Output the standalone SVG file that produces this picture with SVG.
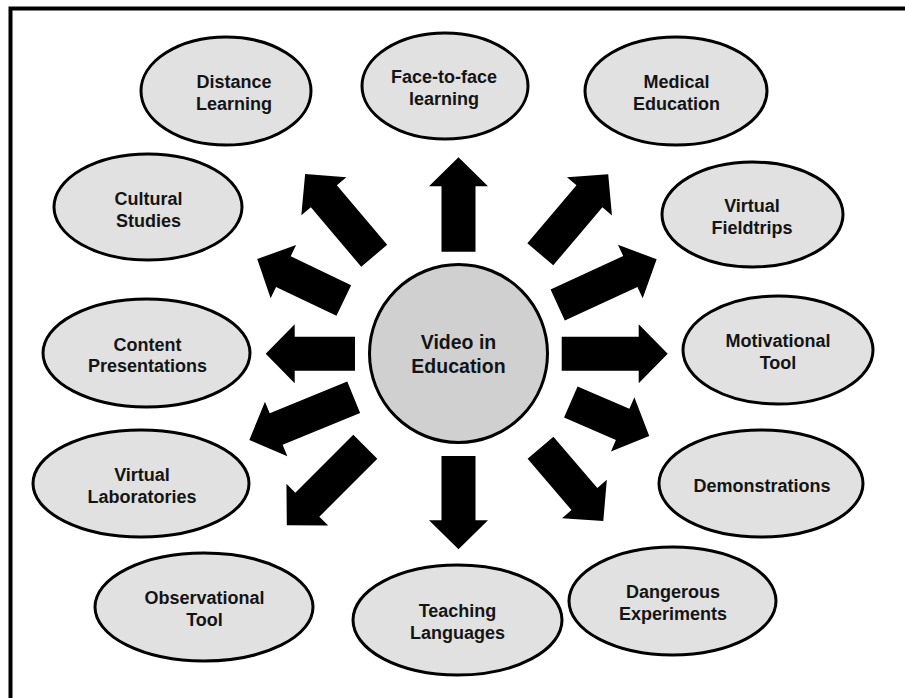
<svg xmlns="http://www.w3.org/2000/svg" width="905" height="698" viewBox="0 0 905 698">
  <style>
    .topic ellipse { fill: #e1e1e1; stroke: #000; stroke-width: 3; }
    .hub circle { fill: #d0d0d0; stroke: #000; stroke-width: 3; }
    text { font-family: "Liberation Sans", Arial, sans-serif; font-weight: bold; font-size: 18px; fill: #141414; text-anchor: middle; }
    .hub text { font-size: 19.5px; }
    .arrow { fill: #000; }
    .frame { fill: none; stroke: #000; stroke-width: 4; }
  </style>

  <rect width="905" height="698" fill="#fff"/>
  <!-- frame (top and left edges) -->
  <path class="frame" d="M10.5,698 V8.5 H905"/>

  <!-- radial arrows: tail at origin, pointing along +x -->
  <g id="connectors">
    <polygon class="arrow" transform="translate(458.5,251.7) rotate(-90)" points="0,-17 65.4,-17 65.4,-29.5 94.4,0 65.4,29.5 65.4,17 0,17"/>
    <polygon class="arrow" transform="translate(540.3,254.3) rotate(-49.7)" points="0,-17 76,-17 76,-29.5 105,0 76,29.5 76,17 0,17"/>
    <polygon class="arrow" transform="translate(557.7,305) rotate(-24.8)" points="0,-17 80,-17 80,-29.5 109,0 80,29.5 80,17 0,17"/>
    <polygon class="arrow" transform="translate(561.7,353.7) rotate(0)" points="0,-17 77,-17 77,-29.5 106,0 77,29.5 77,17 0,17"/>
    <polygon class="arrow" transform="translate(570.8,402) rotate(23.4)" points="0,-17 56.5,-17 56.5,-29.5 85.5,0 56.5,29.5 56.5,17 0,17"/>
    <polygon class="arrow" transform="translate(540.5,447.8) rotate(49.4)" points="0,-17 67.5,-17 67.5,-29.5 96.5,0 67.5,29.5 67.5,17 0,17"/>
    <polygon class="arrow" transform="translate(458.5,456) rotate(90)" points="0,-17 64.3,-17 64.3,-29.5 93.3,0 64.3,29.5 64.3,17 0,17"/>
    <polygon class="arrow" transform="translate(365.3,446.7) rotate(135)" points="0,-17 82,-17 82,-29.5 111,0 82,29.5 82,17 0,17"/>
    <polygon class="arrow" transform="translate(353.7,397.2) rotate(157.7)" points="0,-17 83.8,-17 83.8,-29.5 112.8,0 83.8,29.5 83.8,17 0,17"/>
    <polygon class="arrow" transform="translate(355,353.7) rotate(180)" points="0,-17 60.3,-17 60.3,-29.5 89.3,0 60.3,29.5 60.3,17 0,17"/>
    <polygon class="arrow" transform="translate(343.8,300.5) rotate(205.6)" points="0,-17 67,-17 67,-29.5 96,0 67,29.5 67,17 0,17"/>
    <polygon class="arrow" transform="translate(374.2,255.8) rotate(229.8)" points="0,-17 78,-17 78,-29.5 107,0 78,29.5 78,17 0,17"/>
  </g>

  <g id="video-in-education" class="hub">
    <circle cx="458.5" cy="353.5" r="89"/>
    <text x="458.5" y="349">Video in</text>
    <text x="458.5" y="373">Education</text>
  </g>

  <g id="distance-learning" class="topic">
    <ellipse cx="226" cy="91" rx="85" ry="54"/>
    <text x="234" y="88">Distance</text>
    <text x="234" y="110">Learning</text>
  </g>

  <g id="face-to-face-learning" class="topic">
    <ellipse cx="445" cy="86" rx="83" ry="53"/>
    <text x="444" y="83">Face-to-face</text>
    <text x="444" y="105">learning</text>
  </g>

  <g id="medical-education" class="topic">
    <ellipse cx="676" cy="91" rx="91" ry="54"/>
    <text x="676.5" y="88">Medical</text>
    <text x="676.5" y="110">Education</text>
  </g>

  <g id="virtual-fieldtrips" class="topic">
    <ellipse cx="752.5" cy="214.5" rx="90.5" ry="52.5"/>
    <text x="752" y="212">Virtual</text>
    <text x="752" y="234">Fieldtrips</text>
  </g>

  <g id="motivational-tool" class="topic">
    <ellipse cx="778" cy="350" rx="95" ry="54"/>
    <text x="778" y="347">Motivational</text>
    <text x="778" y="369">Tool</text>
  </g>

  <g id="demonstrations" class="topic">
    <ellipse cx="761" cy="483.5" rx="102" ry="53.5"/>
    <text x="762" y="492">Demonstrations</text>
  </g>

  <g id="dangerous-experiments" class="topic">
    <ellipse cx="672.5" cy="601" rx="103.5" ry="54"/>
    <text x="673" y="597.5">Dangerous</text>
    <text x="673" y="619.5">Experiments</text>
  </g>

  <g id="teaching-languages" class="topic">
    <ellipse cx="457.5" cy="620" rx="104.5" ry="55"/>
    <text x="457.5" y="617">Teaching</text>
    <text x="457.5" y="639">Languages</text>
  </g>

  <g id="observational-tool" class="topic">
    <ellipse cx="204" cy="607" rx="109" ry="54"/>
    <text x="204.5" y="604">Observational</text>
    <text x="204.5" y="626">Tool</text>
  </g>

  <g id="virtual-laboratories" class="topic">
    <ellipse cx="141" cy="483.5" rx="108" ry="53.5"/>
    <text x="142" y="480.5">Virtual</text>
    <text x="142" y="502.5">Laboratories</text>
  </g>

  <g id="content-presentations" class="topic">
    <ellipse cx="146.5" cy="353" rx="103.5" ry="54"/>
    <text x="147.5" y="351">Content</text>
    <text x="147.5" y="372">Presentations</text>
  </g>

  <g id="cultural-studies" class="topic">
    <ellipse cx="148" cy="207" rx="94" ry="53"/>
    <text x="148.5" y="204.5">Cultural</text>
    <text x="148.5" y="226.5">Studies</text>
  </g>
</svg>
